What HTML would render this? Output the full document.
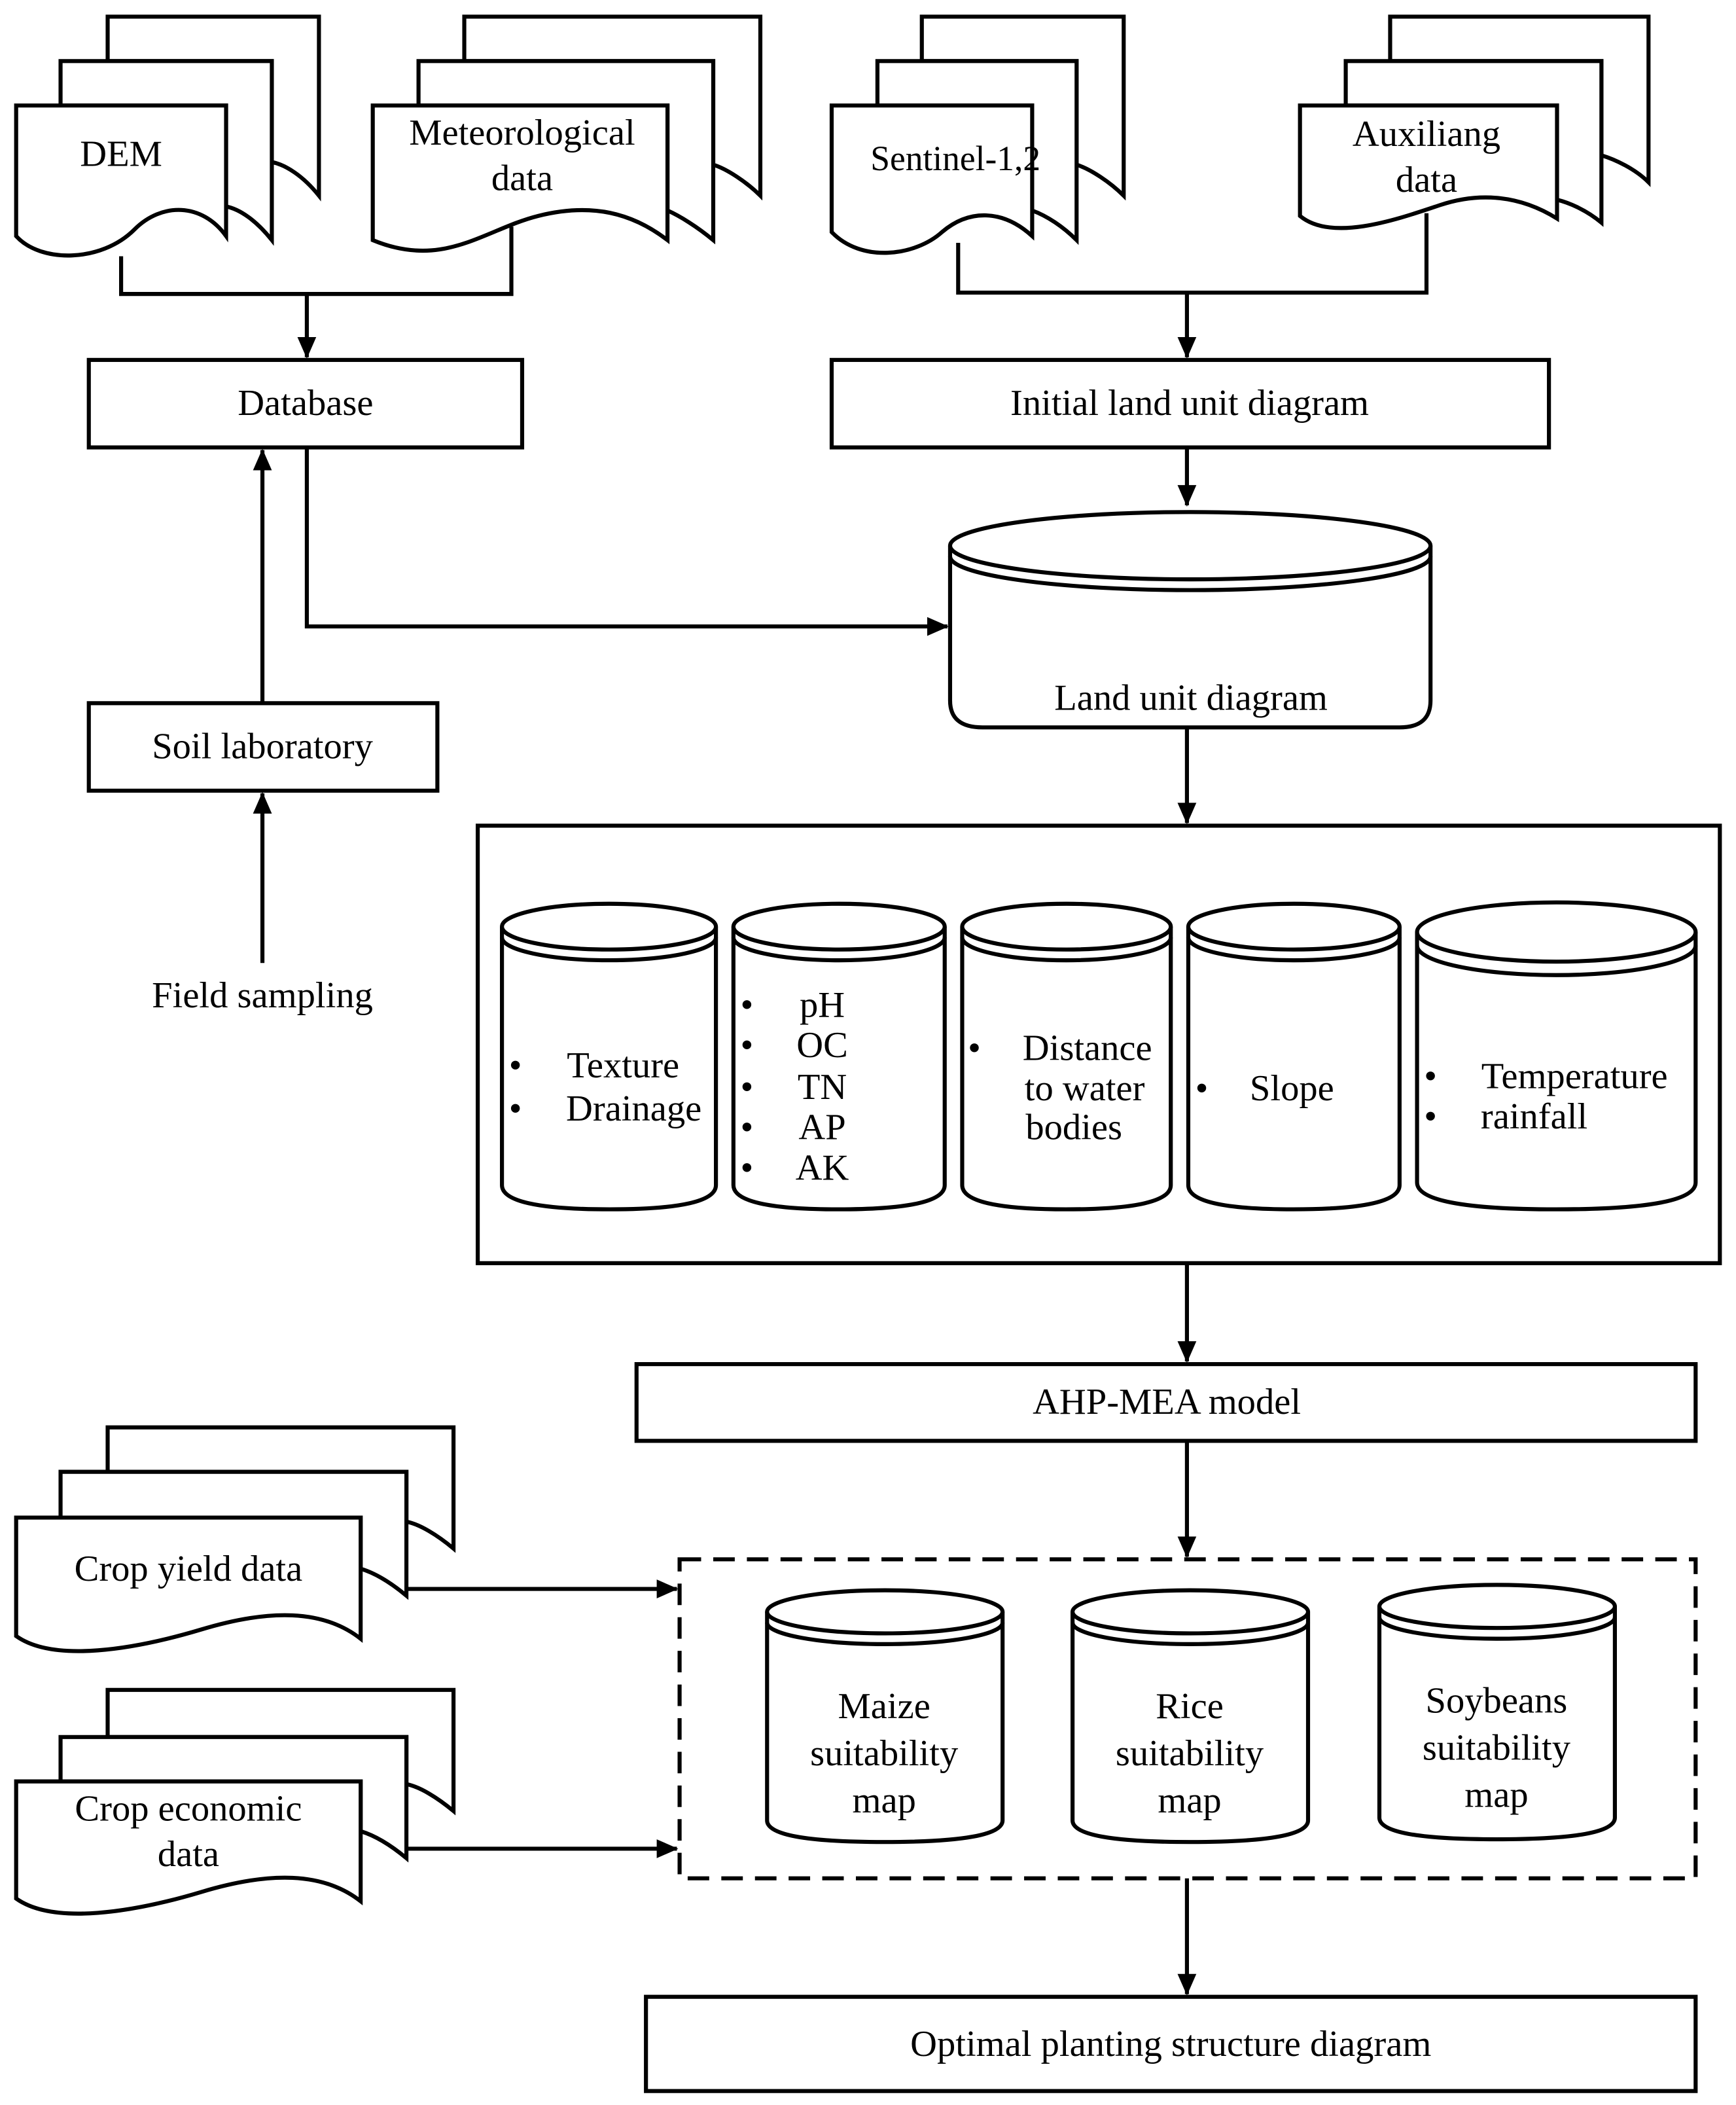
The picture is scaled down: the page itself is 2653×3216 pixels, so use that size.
<!DOCTYPE html>
<html><head><meta charset="utf-8"><style>
html,body{margin:0;padding:0;background:#fff;}
svg{display:block;}
text{font-family:"Liberation Serif",serif;font-size:27.5px;fill:#000;text-anchor:middle;}
</style></head><body>
<svg width="2653" height="3216" viewBox="0 0 1290 1563" xmlns="http://www.w3.org/2000/svg">
<defs>
<marker id="b" markerWidth="16" markerHeight="16" refX="15" refY="8" orient="auto" markerUnits="userSpaceOnUse">
<path d="M0,1 L16,8 L0,15 Z" fill="#000"/></marker>
</defs>
<g fill="#fff" stroke="#000" stroke-width="3">
<path d="M80,12 H237 V145 C225,130 212,122 202,120 V45 H80 Z"/>
<path d="M45,45 H202 V178 C190,163 178,155 168,153 V78 H45 Z"/>
<path d="M12,78 H168 V175 C150,150 120,150 100,170 C75,195 30,195 12,175 Z"/>
<path d="M345,12 H565 V145 C555,135 540,125 530,122 V45 H345 Z"/>
<path d="M311,45 H530 V178 C518,168 505,160 496,156 V78 H311 Z"/>
<path d="M277,78 H496 V178 C470,158 440,150 400,160 C360,170 330,200 277,178 Z"/>
<path d="M685,12 H835 V145 C825,135 810,125 800,122 V45 H685 Z"/>
<path d="M652,45 H800 V178 C790,168 778,160 767,156 V78 H652 Z"/>
<path d="M618,78 H767 V175 C745,155 720,155 700,172 C680,190 640,195 618,172 Z"/>
<path d="M1033,12 H1225 V135 C1215,125 1200,118 1190,115 V45 H1033 Z"/>
<path d="M1000,45 H1190 V165 C1178,155 1165,150 1157,148 V78 H1000 Z"/>
<path d="M966,78 H1157 V162 C1130,145 1100,142 1070,152 C1040,162 990,180 966,160 Z"/>
<path d="M80,1060 H337 V1150 C325,1140 312,1132 302,1130 V1093 H80 Z"/>
<path d="M45,1093 H302 V1185 C290,1175 278,1168 268,1165 V1127 H45 Z"/>
<path d="M12,1127 H268 V1217 C240,1195 200,1195 150,1210 C100,1225 40,1235 12,1215 Z"/>
<path d="M80,1255 H337 V1345 C325,1335 312,1327 302,1325 V1290 H80 Z"/>
<path d="M45,1290 H302 V1380 C290,1370 278,1363 268,1360 V1323 H45 Z"/>
<path d="M12,1323 H268 V1412 C240,1390 200,1390 150,1405 C100,1420 40,1430 12,1410 Z"/>
<rect x="66" y="267" width="322" height="65"/>
<rect x="618" y="267" width="533" height="65"/>
<rect x="66" y="522" width="259" height="65"/>
<rect x="355" y="613" width="923" height="325"/>
<rect x="473" y="1013" width="787" height="57"/>
<rect x="480" y="1483" width="780" height="70"/>
<rect x="505" y="1158" width="755" height="237" stroke-dasharray="16,9"/>
</g>
<g fill="#fff" stroke="#000" stroke-width="3">
<path d="M706,405 V520 Q706,540 730,540 H1040 Q1063,540 1063,520 V405"/>
<ellipse cx="884.5" cy="405" rx="178.5" ry="25"/>
<path d="M706,413 A178.5,25 0 0 0 1063,413" fill="none"/>
</g>
<g fill="#fff" stroke="#000" stroke-width="3">
<path d="M373,688 V880 Q373,898 453,898 Q532,898 532,880 V688"/>
<ellipse cx="452.5" cy="688" rx="79.5" ry="17"/>
<path d="M373,696 A79.5,17 0 0 0 532,696" fill="none"/>
<path d="M545,688 V880 Q545,898 623,898 Q702,898 702,880 V688"/>
<ellipse cx="623.5" cy="688" rx="78.5" ry="17"/>
<path d="M545,696 A78.5,17 0 0 0 702,696" fill="none"/>
<path d="M715,688 V880 Q715,898 792,898 Q870,898 870,880 V688"/>
<ellipse cx="792.5" cy="688" rx="77.5" ry="17"/>
<path d="M715,696 A77.5,17 0 0 0 870,696" fill="none"/>
<path d="M883,688 V880 Q883,898 961,898 Q1040,898 1040,880 V688"/>
<ellipse cx="961.5" cy="688" rx="78.5" ry="17"/>
<path d="M883,696 A78.5,17 0 0 0 1040,696" fill="none"/>
<path d="M1053,692 V878 Q1053,898 1156,898 Q1260,898 1260,878 V692"/>
<ellipse cx="1156.5" cy="692" rx="103.5" ry="22"/>
<path d="M1053,702 A103.5,22 0 0 0 1260,702" fill="none"/>
<path d="M570,1197 V1352 Q570,1368 657,1368 Q745,1368 745,1352 V1197"/>
<ellipse cx="657.5" cy="1197" rx="87.5" ry="16"/>
<path d="M570,1205 A87.5,16 0 0 0 745,1205" fill="none"/>
<path d="M797,1197 V1352 Q797,1368 884,1368 Q972,1368 972,1352 V1197"/>
<ellipse cx="884.5" cy="1197" rx="87.5" ry="16"/>
<path d="M797,1205 A87.5,16 0 0 0 972,1205" fill="none"/>
<path d="M1025,1193 V1350 Q1025,1366 1112,1366 Q1200,1366 1200,1350 V1193"/>
<ellipse cx="1112.5" cy="1193" rx="87.5" ry="16"/>
<path d="M1025,1201 A87.5,16 0 0 0 1200,1201" fill="none"/>
</g>
<g fill="none" stroke="#000" stroke-width="3">
<path d="M90,190 V218 H380 V168"/>
<path d="M228,218 V265" marker-end="url(#b)"/>
<path d="M712,180 V217 H1060 V158"/>
<path d="M882,217 V265" marker-end="url(#b)"/>
<path d="M882,332 V375" marker-end="url(#b)"/>
<path d="M228,332 V465 H704" marker-end="url(#b)"/>
<path d="M195,522 V334" marker-end="url(#b)"/>
<path d="M195,715 V589" marker-end="url(#b)"/>
<path d="M882,540 V611" marker-end="url(#b)"/>
<path d="M882,938 V1011" marker-end="url(#b)"/>
<path d="M882,1070 V1156" marker-end="url(#b)"/>
<path d="M302,1180 H503" marker-end="url(#b)"/>
<path d="M302,1373 H503" marker-end="url(#b)"/>
<path d="M882,1395 V1481" marker-end="url(#b)"/>
</g>
<text x="90" y="123">DEM</text>
<text x="388" y="107">Meteorological</text>
<text x="388" y="141">data</text>
<text x="710" y="126" style="font-size:26px">Sentinel-1,2</text>
<text x="1060" y="108">Auxiliang</text>
<text x="1060" y="142">data</text>
<text x="227" y="308">Database</text>
<text x="884" y="308">Initial land unit diagram</text>
<text x="885" y="527">Land unit diagram</text>
<text x="195" y="563">Soil laboratory</text>
<text x="195" y="748">Field sampling</text>
<g style="font-size:24px">
<text x="383" y="800">•</text><text x="463" y="800">Texture</text>
<text x="383" y="832">•</text><text x="471" y="832">Drainage</text>
<text x="555" y="755">•</text><text x="611" y="755">pH</text>
<text x="555" y="785">•</text><text x="611" y="785">OC</text>
<text x="555" y="816">•</text><text x="611" y="816">TN</text>
<text x="555" y="846">•</text><text x="611" y="846">AP</text>
<text x="555" y="876">•</text><text x="611" y="876">AK</text>
<text x="724" y="787">•</text><text x="808" y="787">Distance</text>
<text x="806" y="817">to water</text>
<text x="798" y="846">bodies</text>
<text x="893" y="817">•</text><text x="960" y="817">Slope</text>
<text x="1063" y="808">•</text><text x="1170" y="808">Temperature</text>
<text x="1063" y="838">•</text><text x="1140" y="838">rainfall</text>
</g>
<text x="867" y="1050">AHP-MEA model</text>
<text x="140" y="1174">Crop yield data</text>
<text x="140" y="1352">Crop economic</text>
<text x="140" y="1386">data</text>
<text x="657" y="1276">Maize</text>
<text x="657" y="1311">suitability</text>
<text x="657" y="1346">map</text>
<text x="884" y="1276">Rice</text>
<text x="884" y="1311">suitability</text>
<text x="884" y="1346">map</text>
<text x="1112" y="1272">Soybeans</text>
<text x="1112" y="1307">suitability</text>
<text x="1112" y="1342">map</text>
<text x="870" y="1527">Optimal planting structure diagram</text>
</svg>
</body></html>
